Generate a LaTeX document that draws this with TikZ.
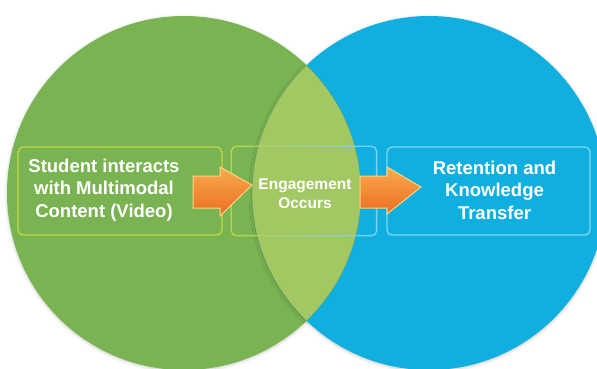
\documentclass[tikz,border=0pt]{standalone}
\usepackage{fontspec}
\setmainfont{Liberation Sans}
\usetikzlibrary{shadows.blur,fadings}
\definecolor{cgreen}{RGB}{122,180,82}
\definecolor{cblue}{RGB}{16,175,223}
\definecolor{clens}{RGB}{163,199,98}
\definecolor{ogreen}{RGB}{190,218,62}
\definecolor{oblue}{RGB}{128,212,240}
\definecolor{otop}{RGB}{248,172,78}
\definecolor{obot}{RGB}{236,108,32}
\definecolor{oedge}{RGB}{252,214,130}
\begin{document}
\begin{tikzpicture}[x=1pt,y=-1pt,
  circ/.style={blur shadow={shadow xshift=0pt,shadow yshift=-1pt,shadow blur radius=3pt,shadow opacity=22}},
  boxframe/.style={line width=1.3pt, rounded corners=5pt, minimum width=#1, minimum height=88pt, inner sep=0pt},
  lbl/.style={text=white, font=\bfseries\fontsize{18.5}{22.5}\selectfont, align=center},
  slbl/.style={text=white, font=\bfseries\fontsize{15.5}{19}\selectfont, align=center},
  blockarrow/.style={top color=otop, bottom color=obot, draw=oedge, line width=1pt, line join=miter}
]
\useasboundingbox (0,0) rectangle (597,368);
% circles
\coordinate (cg) at (184,193);
\coordinate (cb) at (429,193);
\path[circ, fill=cgreen] (cg) circle[radius=177];
\path[circ, fill=cblue] (cb) circle[radius=177];
% lens
\begin{scope}
  \clip (cg) circle[radius=177];
  \fill[clens] (cb) circle[radius=177];
  \draw[cgreen!60!black, opacity=.22, line width=.7pt] (cb) circle[radius=177];
\end{scope}
\begin{scope}
  \clip (cb) circle[radius=177];
  \draw[cgreen!60!black, opacity=.22, line width=.7pt] (cg) circle[radius=177];
\end{scope}
% boxes
\node[boxframe=204pt, draw=ogreen] (boxL) at (120,191) {};
\node[boxframe=144pt] (boxM) at (304,191) {};
\node[boxframe=203pt, draw=oblue] (boxR) at (488.5,191) {};
\draw[ogreen, line width=1.3pt, rounded corners=5pt, path fading=east] (boxM.north west) rectangle (boxM.south east);
\draw[oblue, line width=1.3pt, rounded corners=5pt, path fading=west] (boxM.north west) rectangle (boxM.south east);
% arrows
\path[blockarrow] (193,176) -- (220,176) -- (220,167) -- (252,185) -- (220,216) -- (220,208) -- (193,208) -- cycle;
\path[blockarrow] (360,176) -- (387,176) -- (387,167) -- (421,187) -- (387,214) -- (387,208) -- (360,208) -- cycle;
% texts
\node[lbl] (tL) at (104,190) {Student interacts\\with Multimodal\\Content (Video)};
\node[slbl] (tM) at (305,194) {Engagement\\Occurs};
\node[lbl] (tR) at (494.5,190) {Retention and\\Knowledge\\Transfer};
\end{tikzpicture}
\end{document}
